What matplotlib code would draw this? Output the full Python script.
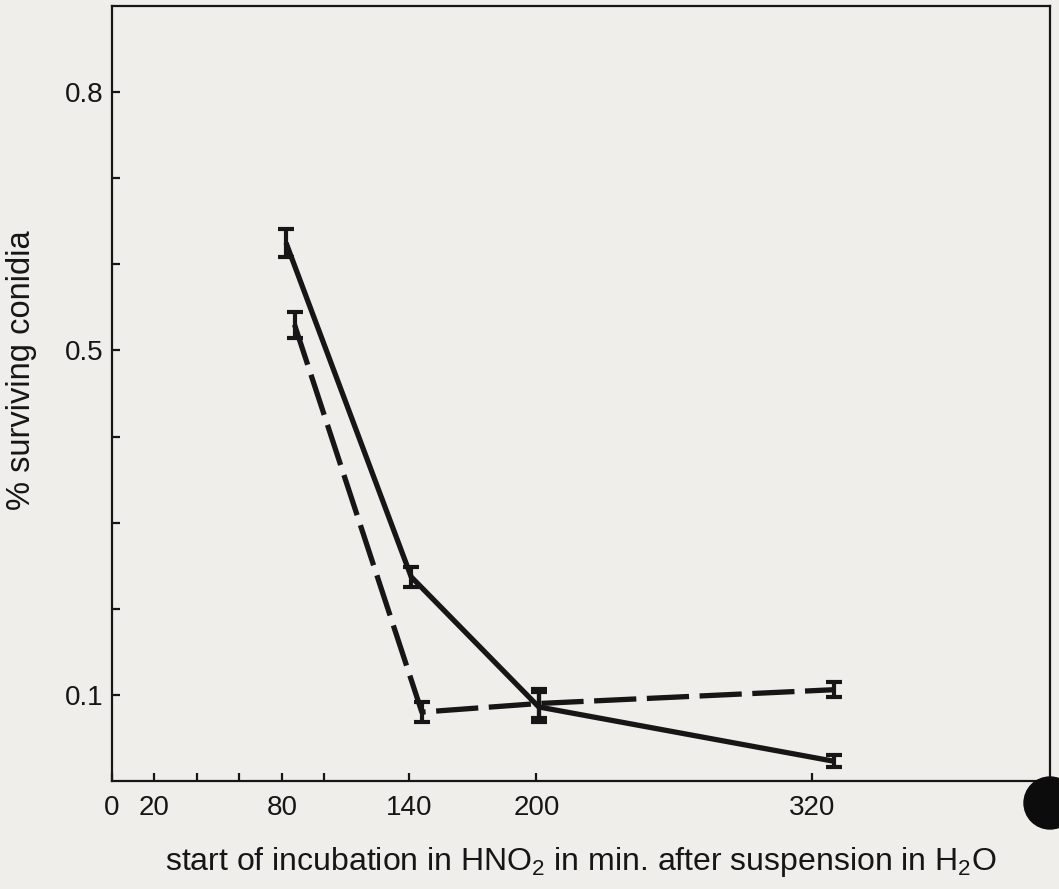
import numpy as np
import matplotlib
matplotlib.use("Agg")
import matplotlib.pyplot as plt
from matplotlib.patches import Ellipse

# ---- data ----
x_solid = [82, 141, 201, 330]
y_solid = [0.625, 0.237, 0.086, 0.023]
err_solid = [0.016, 0.012, 0.017, 0.007]

x_dashed = [86, 146, 201, 330]
y_dashed = [0.530, 0.080, 0.090, 0.106]
err_dashed = [0.015, 0.012, 0.017, 0.009]

x_ticks = [0, 20, 40, 60, 80, 100, 140, 200, 320]
x_ticklabels = ["0", "20", "", "", "80", "", "140", "200", "320"]
y_ticks = [0.1, 0.2, 0.3, 0.4, 0.5, 0.6, 0.7, 0.8]
y_ticklabels = ["0.1", "", "", "", "0.5", "", "", "0.8"]

xlabel = "start of incubation in HNO$_2$ in min. after suspension in H$_2$O"
ylabel = "% surviving conidia"

# ---- style ----
plt.rcParams["font.family"] = ["Liberation Sans", "DejaVu Sans"]
plt.rcParams["mathtext.default"] = "regular"

bg = "#efeeea"
ink = "#161616"

fig = plt.figure(figsize=(10.59, 8.89), dpi=100, facecolor=bg)
ax = fig.add_axes([112 / 1059, 1 - 781 / 889, (1050 - 112) / 1059, (781 - 6) / 889])
ax.set_facecolor(bg)

# hand-drawn axis: slightly stretched beyond 200 min
_src = [0, 200, 320, 1000]
_dst = [0, 200, 330, 1010]
fwd = lambda v: np.interp(v, _src, _dst)
inv = lambda v: np.interp(v, _dst, _src)
ax.set_xscale("function", functions=(fwd, inv))

ax.plot(x_solid, y_solid, color=ink, lw=3.8, solid_capstyle="butt", zorder=3)
ax.plot(x_dashed, y_dashed, color=ink, lw=3.8, dashes=(8, 2), dash_capstyle="butt", zorder=3)
ax.errorbar(x_solid, y_solid, yerr=err_solid, fmt="none", ecolor=ink,
            elinewidth=3, capsize=6, capthick=3, zorder=4)
ax.errorbar(x_dashed, y_dashed, yerr=err_dashed, fmt="none", ecolor=ink,
            elinewidth=3, capsize=6, capthick=3, zorder=4)

ax.set_xlim(0, inv(442))
ax.set_ylim(0, 0.9)

ax.set_xticks(x_ticks)
ax.set_xticklabels(x_ticklabels)
ax.set_yticks(y_ticks)
ax.set_yticklabels(y_ticklabels)
ax.minorticks_off()
ax.tick_params(axis="both", direction="in", length=6, width=1.6, color=ink,
               labelsize=20, labelcolor=ink)
ax.tick_params(axis="x", pad=10)
ax.tick_params(axis="y", pad=6)

for s in ax.spines.values():
    s.set_linewidth(1.6)
    s.set_color(ink)

ax.set_xlabel(xlabel, fontsize=23, color=ink)
ax.xaxis.set_label_coords(0.5, -0.083)
ax.set_ylabel(ylabel, fontsize=23.5, color=ink)
ax.yaxis.set_label_coords(-0.08, 0.53)

# punched hole mark of the scan
fig.patches.append(Ellipse((1050 / 1059, 1 - 803 / 889), 52 / 1059, 52 / 889,
                           transform=fig.transFigure, color="#0c0c0c", zorder=10))

fig.savefig("out.png", dpi=100, facecolor=bg)
